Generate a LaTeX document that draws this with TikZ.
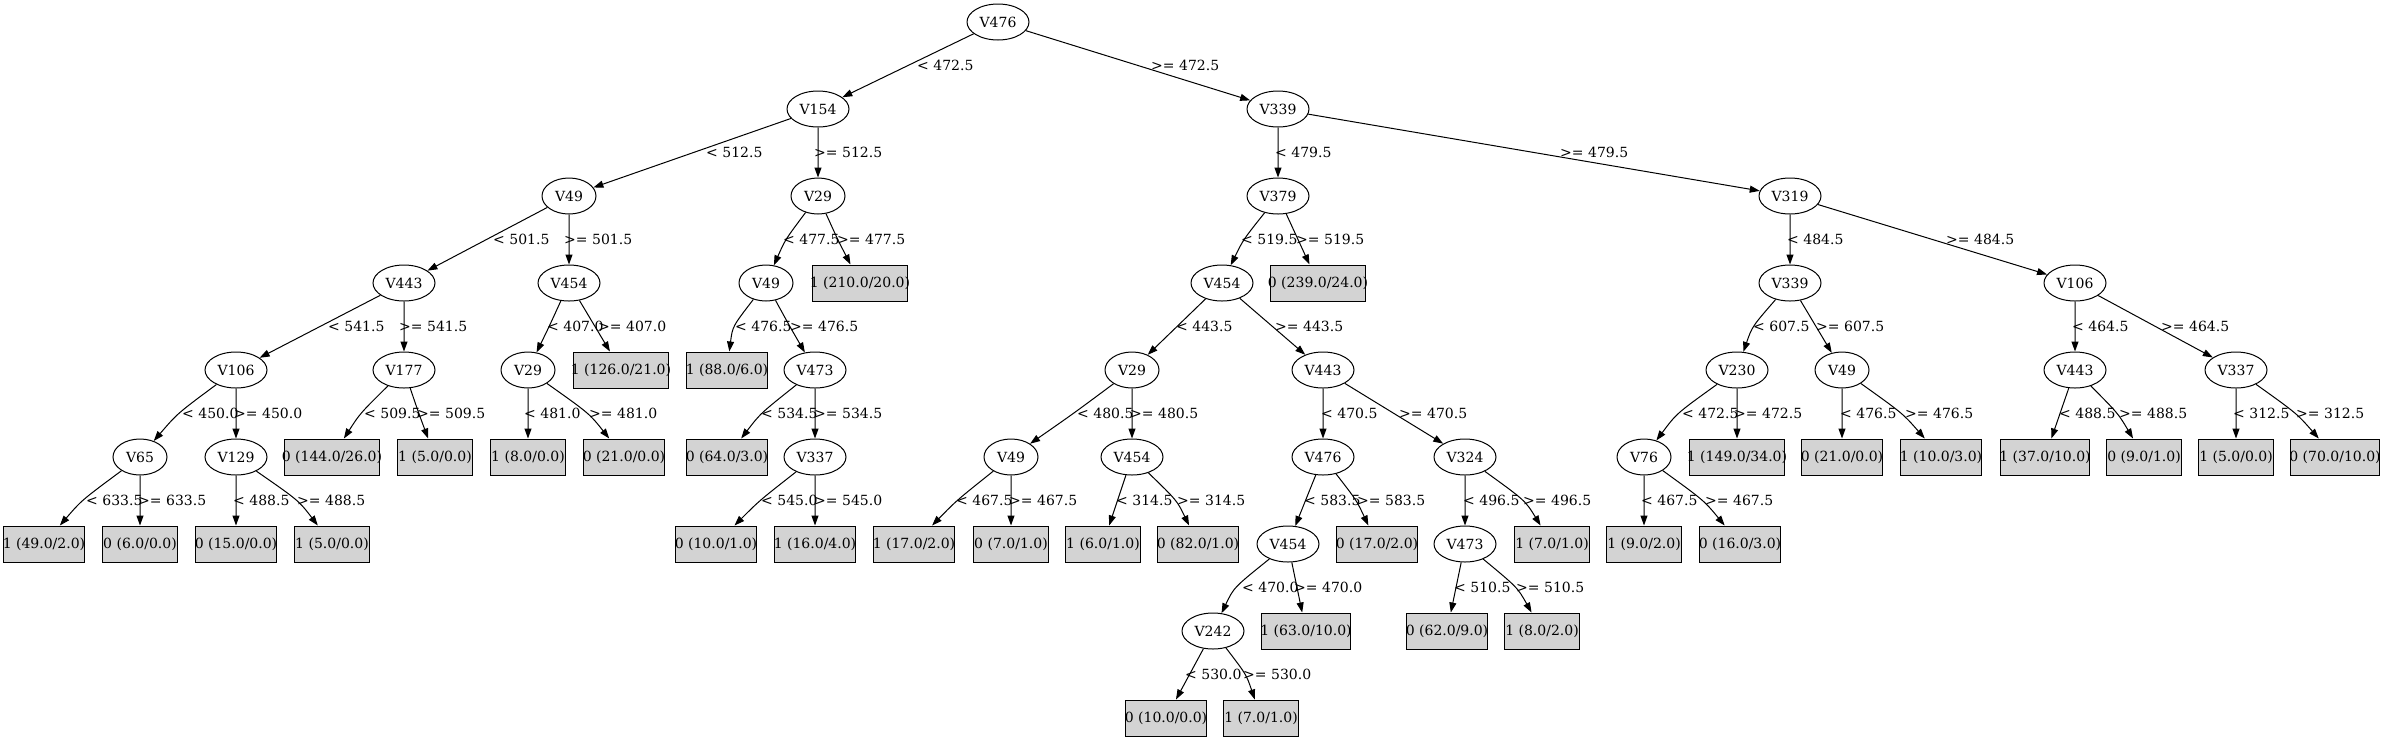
\documentclass[tikz,border=0pt]{standalone}
\usepackage{fontspec}
\setmainfont{DejaVu Serif}
\usetikzlibrary{shapes.geometric,arrows.meta,calc}
\definecolor{leafgray}{HTML}{D3D3D3}
\tikzset{
  txt/.style={font=\fontsize{14pt}{16pt}\selectfont},
  vn/.style={ellipse, draw, line width=1pt, minimum width=62pt, minimum height=36pt, inner sep=0pt, txt},
  vs/.style={vn, minimum width=54pt},
  leafbox/.style={rectangle, draw, line width=1pt, fill=leafgray, minimum height=36pt, minimum width=#1, inner sep=0pt, txt,
    execute at begin node={\hbox to 0pt\bgroup\hss}, execute at end node={\hss\egroup}},
  edge/.style={draw, line width=1pt, -{Triangle[length=10pt,width=7pt]}},
  elabel/.style={inner sep=0pt, anchor=west, txt}
}
\newcommand\edg[5]{%
  \draw[edge] let \p1=(#1.center), \p2=(#2.center) in
    (#1) .. controls ({(4/3)*#3pt-(\x1+\x2)/6},{(\y1+\y2)/2}) .. (#2);
  \path let \p1=(#1.center), \p2=(#2.center) in
    node[elabel] at ({#4pt},{(\y1+\y2)/2}) {#5};
}
\begin{document}
\begin{tikzpicture}[x=1pt,y=-1pt]
\fill[white] (0,0) rectangle (2383,740);
\useasboundingbox (0,0) rectangle (2383,740);
% L0
\node[vn] (r) at (998,22) {V476};
% L1
\node[vn] (a) at (818,109) {V154};
\node[vn] (b) at (1278,109) {V339};
% L2
\node[vs] (a1) at (569,196) {V49};
\node[vs] (a2) at (818,196) {V29};
\node[vn] (b1) at (1278,196) {V379};
\node[vn] (b2) at (1790,196) {V319};
% L3
\node[vn] (a11) at (404,283) {V443};
\node[vn] (a12) at (569,283) {V454};
\node[vs] (a21) at (766,283) {V49};
\node[leafbox=95.7pt] (a22) at (860,283) {1 (210.0/20.0)};
\node[vn] (b11) at (1222,283) {V454};
\node[leafbox=95.7pt] (b12) at (1318,283) {0 (239.0/24.0)};
\node[vn] (b21) at (1790,283) {V339};
\node[vn] (b22) at (2075,283) {V106};
% L4
\node[vn] (a111) at (236,370) {V106};
\node[vn] (a112) at (404,370) {V177};
\node[vs] (a121) at (528,370) {V29};
\node[leafbox=95.7pt] (a122) at (621,370) {1 (126.0/21.0)};
\node[leafbox=81.7pt] (a211) at (727,370) {1 (88.0/6.0)};
\node[vn] (a212) at (815,370) {V473};
\node[vs] (b111) at (1132,370) {V29};
\node[vn] (b112) at (1323,370) {V443};
\node[vn] (b211) at (1737,370) {V230};
\node[vs] (b212) at (1842,370) {V49};
\node[vn] (b221) at (2075,370) {V443};
\node[vn] (b222) at (2236,370) {V337};
% L5
\node[vs] (a1111) at (140,457) {V65};
\node[vn] (a1112) at (236,457) {V129};
\node[leafbox=95.7pt] (a1121) at (332,457) {0 (144.0/26.0)};
\node[leafbox=74.7pt] (a1122) at (435,457) {1 (5.0/0.0)};
\node[leafbox=74.7pt] (a1211) at (528,457) {1 (8.0/0.0)};
\node[leafbox=81.7pt] (a1212) at (624,457) {0 (21.0/0.0)};
\node[leafbox=81.7pt] (a2121) at (727,457) {0 (64.0/3.0)};
\node[vn] (a2122) at (815,457) {V337};
\node[vs] (b1111) at (1011,457) {V49};
\node[vn] (b1112) at (1132,457) {V454};
\node[vn] (b1121) at (1323,457) {V476};
\node[vn] (b1122) at (1465,457) {V324};
\node[vs] (b2111) at (1644,457) {V76};
\node[leafbox=95.7pt] (b2112) at (1737,457) {1 (149.0/34.0)};
\node[leafbox=81.7pt] (b2121) at (1842,457) {0 (21.0/0.0)};
\node[leafbox=81.7pt] (b2122) at (1941,457) {1 (10.0/3.0)};
\node[leafbox=88.7pt] (b2211) at (2045,457) {1 (37.0/10.0)};
\node[leafbox=74.7pt] (b2212) at (2144,457) {0 (9.0/1.0)};
\node[leafbox=74.7pt] (b2221) at (2236,457) {1 (5.0/0.0)};
\node[leafbox=88.7pt] (b2222) at (2335,457) {0 (70.0/10.0)};
% L6
\node[leafbox=81.7pt] (a11111) at (44,544) {1 (49.0/2.0)};
\node[leafbox=74.7pt] (a11112) at (140,544) {0 (6.0/0.0)};
\node[leafbox=81.7pt] (a11121) at (236,544) {0 (15.0/0.0)};
\node[leafbox=74.7pt] (a11122) at (332,544) {1 (5.0/0.0)};
\node[leafbox=81.7pt] (a21221) at (716,544) {0 (10.0/1.0)};
\node[leafbox=81.7pt] (a21222) at (815,544) {1 (16.0/4.0)};
\node[leafbox=81.7pt] (b11111) at (914,544) {1 (17.0/2.0)};
\node[leafbox=74.7pt] (b11112) at (1011,544) {0 (7.0/1.0)};
\node[leafbox=74.7pt] (b11121) at (1103,544) {1 (6.0/1.0)};
\node[leafbox=81.7pt] (b11122) at (1198,544) {0 (82.0/1.0)};
\node[vn] (b11211) at (1288,544) {V454};
\node[leafbox=81.7pt] (b11212) at (1377,544) {0 (17.0/2.0)};
\node[vn] (b11221) at (1465,544) {V473};
\node[leafbox=74.7pt] (b11222) at (1552,544) {1 (7.0/1.0)};
\node[leafbox=74.7pt] (b21111) at (1644,544) {1 (9.0/2.0)};
\node[leafbox=81.7pt] (b21112) at (1740,544) {0 (16.0/3.0)};
% L7
\node[vn] (b112111) at (1213,631) {V242};
\node[leafbox=88.7pt] (b112112) at (1306,631) {1 (63.0/10.0)};
\node[leafbox=81.7pt] (b112211) at (1447,631) {0 (62.0/9.0)};
\node[leafbox=74.7pt] (b112212) at (1542,631) {1 (8.0/2.0)};
% L8
\node[leafbox=81.7pt] (b1121111) at (1166,718) {0 (10.0/0.0)};
\node[leafbox=74.7pt] (b1121112) at (1261,718) {1 (7.0/1.0)};
% edges
\edg{r}{a}{908}{917}{< 472.5}
\edg{r}{b}{1138}{1151}{>= 472.5}
\edg{a}{a1}{693.5}{706}{< 512.5}
\edg{a}{a2}{818}{814}{>= 512.5}
\edg{a1}{a11}{486.5}{493}{< 501.5}
\edg{a1}{a12}{569}{564}{>= 501.5}
\edg{a11}{a111}{320}{328}{< 541.5}
\edg{a11}{a112}{404}{399}{>= 541.5}
\edg{a111}{a1111}{180}{182}{< 450.0}
\edg{a111}{a1112}{236}{234}{>= 450.0}
\edg{a1111}{a11111}{84}{86}{< 633.5}
\edg{a1111}{a11112}{140}{138}{>= 633.5}
\edg{a1112}{a11121}{236}{233}{< 488.5}
\edg{a1112}{a11122}{295}{297}{>= 488.5}
\edg{a112}{a1121}{362}{364}{< 509.5}
\edg{a112}{a1122}{419}{417}{>= 509.5}
\edg{a12}{a121}{549}{547}{< 407.0}
\edg{a12}{a122}{595}{598}{>= 407.0}
\edg{a121}{a1211}{528}{524}{< 481.0}
\edg{a121}{a1212}{586}{589}{>= 481.0}
\edg{a2}{a21}{787}{783}{< 477.5}
\edg{a2}{a22}{838}{837}{>= 477.5}
\edg{a21}{a211}{736}{735}{< 476.5}
\edg{a21}{a212}{790}{790}{>= 476.5}
\edg{a212}{a2121}{763}{761}{< 534.5}
\edg{a212}{a2122}{815}{814}{>= 534.5}
\edg{a2122}{a21221}{761}{761}{< 545.0}
\edg{a2122}{a21222}{815}{814}{>= 545.0}
\edg{b}{b1}{1278}{1275}{< 479.5}
\edg{b}{b2}{1534}{1560}{>= 479.5}
\edg{b1}{b11}{1245}{1241}{< 519.5}
\edg{b1}{b12}{1298}{1296}{>= 519.5}
\edg{b11}{b111}{1177}{1176}{< 443.5}
\edg{b11}{b112}{1272.5}{1275}{>= 443.5}
\edg{b111}{b1111}{1073}{1077}{< 480.5}
\edg{b111}{b1112}{1132}{1130}{>= 480.5}
\edg{b1111}{b11111}{958}{956}{< 467.5}
\edg{b1111}{b11112}{1011}{1009}{>= 467.5}
\edg{b1112}{b11121}{1117.5}{1116}{< 314.5}
\edg{b1112}{b11122}{1174}{1177}{>= 314.5}
\edg{b112}{b1121}{1323}{1321}{< 470.5}
\edg{b112}{b1122}{1394}{1399}{>= 470.5}
\edg{b1121}{b11211}{1305.5}{1304}{< 583.5}
\edg{b1121}{b11212}{1355}{1357}{>= 583.5}
\edg{b11211}{b112111}{1238}{1242}{< 470.0}
\edg{b11211}{b112112}{1297}{1294}{>= 470.0}
\edg{b112111}{b1121111}{1189.5}{1185}{< 530.0}
\edg{b112111}{b1121112}{1244}{1243}{>= 530.0}
\edg{b1122}{b11221}{1465}{1463}{< 496.5}
\edg{b1122}{b11222}{1521}{1523}{>= 496.5}
\edg{b11221}{b112211}{1456}{1454}{< 510.5}
\edg{b11221}{b112212}{1514}{1516}{>= 510.5}
\edg{b2}{b21}{1790}{1787}{< 484.5}
\edg{b2}{b22}{1932.5}{1946}{>= 484.5}
\edg{b21}{b211}{1755}{1753}{< 607.5}
\edg{b21}{b212}{1816}{1816}{>= 607.5}
\edg{b211}{b2111}{1680}{1682}{< 472.5}
\edg{b211}{b2112}{1737}{1734}{>= 472.5}
\edg{b2111}{b21111}{1644}{1641}{< 467.5}
\edg{b2111}{b21112}{1701}{1705}{>= 467.5}
\edg{b212}{b2121}{1842}{1840}{< 476.5}
\edg{b212}{b2122}{1900}{1905}{>= 476.5}
\edg{b22}{b221}{2075}{2072}{< 464.5}
\edg{b22}{b222}{2155.5}{2161}{>= 464.5}
\edg{b221}{b2211}{2060}{2059}{< 488.5}
\edg{b221}{b2212}{2116}{2119}{>= 488.5}
\edg{b222}{b2221}{2236}{2233}{< 312.5}
\edg{b222}{b2222}{2294}{2296}{>= 312.5}
\end{tikzpicture}
\end{document}
